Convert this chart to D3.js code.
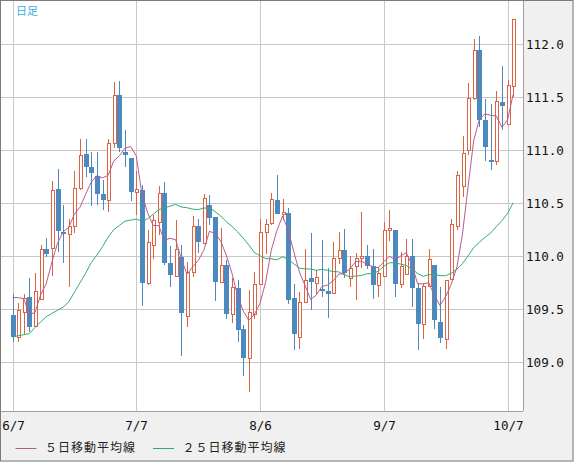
<!DOCTYPE html>
<html>
<head>
<meta charset="utf-8">
<script src="https://cdn.jsdelivr.net/npm/d3@7"></script>
<style>
body { margin: 0; background: #fff; }
</style>
</head>
<body>
<div id="cont"></div>
<script>
// data //

var dates = ["6/7","6/8","6/9","6/10","6/11","6/14","6/15","6/16","6/17","6/18",
  "6/21","6/22","6/23","6/24","6/25","6/28","6/29","6/30","7/1","7/2",
  "7/5","7/6","7/7","7/8","7/9","7/12","7/13","7/14","7/15","7/16",
  "7/19","7/20","7/21","7/22","7/23","7/26","7/27","7/28","7/29","7/30",
  "8/2","8/3","8/4","8/5","8/6","8/9","8/10","8/11","8/12","8/13",
  "8/16","8/17","8/18","8/19","8/20","8/23","8/24","8/25","8/26","8/27",
  "8/30","8/31","9/1","9/2","9/3","9/6","9/7","9/8","9/9","9/10",
  "9/13","9/14","9/15","9/16","9/17","9/20","9/21","9/22","9/23","9/24",
  "9/27","9/28","9/29","9/30","10/1","10/4","10/5","10/6","10/7","10/8"];

var open = [109.45,109.24,109.48,109.62,109.34,109.60,110.07,110.07,110.63,110.23,
  110.20,110.28,110.64,110.96,110.84,110.76,110.59,110.53,111.07,111.52,
  110.98,110.93,110.60,110.62,109.74,110.10,110.33,110.60,109.94,109.82,
  109.99,109.44,109.85,110.28,110.13,110.48,110.37,109.76,109.92,109.46,
  109.70,109.31,109.04,109.46,109.74,110.22,110.31,110.53,110.40,110.41,
  109.61,109.24,109.57,109.79,109.74,109.69,109.67,109.65,109.98,110.06,
  109.80,109.90,109.98,110.00,109.91,109.73,109.82,110.25,110.25,109.74,
  109.83,110.00,109.70,109.36,109.72,109.92,109.38,109.22,109.78,110.29,
  110.66,111.00,111.49,111.94,111.28,110.91,110.89,111.45,111.24,111.61];

var high = [109.64,109.56,109.64,109.79,109.84,110.11,110.17,110.71,110.82,110.48,
  110.35,110.80,111.10,111.10,110.98,110.98,110.72,111.10,111.64,111.65,
  111.19,110.93,110.80,110.67,110.25,110.39,110.66,110.70,110.10,110.34,
  110.11,109.95,110.38,110.35,110.59,110.58,110.37,110.27,109.96,109.79,
  109.78,109.35,109.68,109.85,110.35,110.35,110.60,110.77,110.54,110.45,
  109.74,109.66,110.07,110.22,109.87,110.15,109.89,110.13,110.23,110.26,
  110.00,110.03,110.42,110.11,110.07,109.90,110.32,110.44,110.25,110.04,
  110.16,110.16,109.75,109.75,110.07,109.92,109.71,109.78,110.35,110.80,
  111.13,111.63,112.05,112.08,111.48,111.43,111.56,111.79,111.66,112.24];

var low = [109.19,109.19,109.26,109.29,109.33,109.60,109.99,109.81,110.04,109.94,
  109.71,110.22,110.62,110.75,110.47,110.48,110.44,110.42,111.02,110.98,
  110.84,110.52,110.39,109.53,109.73,109.97,110.20,109.92,109.71,109.81,
  109.06,109.33,109.80,110.03,110.12,110.29,109.58,109.76,109.41,109.37,
  109.19,108.87,108.72,109.41,109.73,110.02,110.29,110.40,110.34,109.55,
  109.12,109.13,109.57,109.49,109.64,109.62,109.42,109.65,109.93,109.79,
  109.71,109.59,109.89,109.88,109.60,109.62,109.81,110.14,109.62,109.70,
  109.83,109.52,109.12,109.22,109.71,109.31,109.18,109.13,109.78,110.25,
  110.56,110.95,111.47,111.22,110.90,110.81,110.86,111.19,111.24,111.50];

var close = [109.24,109.49,109.61,109.34,109.67,110.07,110.02,110.62,110.23,110.21,
  110.28,110.64,110.95,110.84,110.78,110.59,110.53,111.07,111.52,111.02,
  110.95,110.61,110.63,109.74,110.13,110.34,110.60,109.94,109.83,110.07,
  109.46,109.85,110.28,110.13,110.55,110.36,109.76,109.92,109.46,109.71,
  109.30,109.04,109.47,109.74,110.23,110.30,110.54,110.40,110.42,109.59,
  109.27,109.57,109.78,109.75,109.80,109.67,109.64,109.98,110.06,109.84,
  109.89,109.98,110.00,109.91,109.73,109.84,110.25,110.27,109.74,109.91,
  110.00,109.70,109.36,109.72,109.97,109.40,109.23,109.78,110.30,110.77,
  110.97,111.49,111.94,111.28,111.03,110.90,111.46,111.41,111.61,112.24];

// averages before the window fills (earlier days are not in the chart)
var ma5Head = [109.61,109.61,109.60,109.45];
var ma25Head = [109.24,109.25,109.26,109.27,109.33,109.38,109.43,109.46,109.49,109.52,
  109.57,109.66,109.75,109.84,109.94,110.01,110.09,110.18,110.25,110.29,
  110.33,110.34,110.35,110.33];

var xTicks = ["6/7","7/7","8/6","9/7","10/7"];
var yTicks = [109.0,109.5,110.0,110.5,111.0,111.5,112.0];
var legendNames = ["５日移動平均線","２５日移動平均線"];

// SVG stuff //

var W = 574, H = 462, plotR = 523, plotB = 411;
var upCol = "#dd6442", downCol = "#4b89bf", ma5Col = "#b65d8e", ma25Col = "#2eae6e";

var svg = d3.select("#cont").append("svg").attr("width", W).attr("height", H)
  .style("display", "block");

svg.append("rect").attr("width", W).attr("height", H).attr("fill", "#f0f0f0");
svg.append("rect").attr("x", 1).attr("y", 1).attr("width", plotR - 1).attr("height", plotB - 1)
  .attr("fill", "#fff");

svg.append("clipPath").attr("id", "clip").append("rect")
  .attr("x", 1).attr("y", 1).attr("width", plotR - 1).attr("height", plotB - 1);

var x = d3.scalePoint().domain(dates).range([12.5, 513.125]);
var y = d3.scaleLinear().domain([109, 112]).range([362.3, 44]);
var px = function(d) { return Math.round(x(d)) + 0.5; };

var plot = svg.append("g").attr("clip-path", "url(#clip)");

// grid
plot.selectAll(".hg").data(yTicks).enter().append("line")
  .attr("x1", 0).attr("x2", plotR)
  .attr("y1", function(d) { return Math.round(y(d)) + 0.5; })
  .attr("y2", function(d) { return Math.round(y(d)) + 0.5; })
  .attr("stroke", "#c8c8c8").attr("stroke-width", 1);
plot.selectAll(".vg").data(xTicks).enter().append("line")
  .attr("x1", px).attr("x2", px).attr("y1", 0).attr("y2", plotB)
  .attr("stroke", "#c8c8c8").attr("stroke-width", 1);

// candles
var bars = dates.map(function(d, i) {
  return { d: d, o: open[i], h: high[i], l: low[i], c: close[i] };
});

var cg = plot.selectAll(".candle").data(bars).enter().append("g")
  .attr("shape-rendering", "crispEdges");
cg.append("line")
  .attr("x1", function(b) { return px(b.d); }).attr("x2", function(b) { return px(b.d); })
  .attr("y1", function(b) { return y(b.h); }).attr("y2", function(b) { return y(b.l); })
  .attr("stroke", function(b) { return b.c >= b.o ? upCol : downCol; });
cg.filter(function(b) { return b.c >= b.o; }).append("rect")
  .attr("x", function(b) { return px(b.d) - 1.5; }).attr("width", 3)
  .attr("y", function(b) { return Math.round(y(b.c)) + 0.5; })
  .attr("height", function(b) { return Math.max(1, Math.round(y(b.o) - y(b.c))); })
  .attr("fill", "#fff").attr("stroke", upCol);
cg.filter(function(b) { return b.c < b.o; }).append("rect")
  .attr("x", function(b) { return px(b.d) - 2.5; }).attr("width", 5)
  .attr("y", function(b) { return Math.round(y(b.o)); })
  .attr("height", function(b) { return Math.max(2, Math.round(y(b.c) - y(b.o))); })
  .attr("fill", downCol);

// moving averages
var movAvg = function(n, head) {
  return close.map(function(v, i) {
    return i < n - 1 ? head[i] : d3.mean(close.slice(i - n + 1, i + 1));
  });
};
var ma5 = movAvg(5, ma5Head), ma25 = movAvg(25, ma25Head);

var line = d3.line()
  .x(function(v, i) { return x(dates[i]); })
  .y(function(v) { return y(v); });

plot.append("path").attr("d", line(ma25)).attr("fill", "none")
  .attr("stroke", ma25Col).attr("stroke-width", 1);
plot.append("path").attr("d", line(ma5)).attr("fill", "none")
  .attr("stroke", ma5Col).attr("stroke-width", 1);

plot.append("text").attr("x", 16).attr("y", 15).text("日足")
  .attr("font-family", "Noto Sans CJK JP").attr("font-size", 11).attr("fill", "#3aaee2");

// frame
svg.append("line").attr("x1", plotR + 0.5).attr("x2", plotR + 0.5).attr("y1", 0).attr("y2", plotB)
  .attr("stroke", "#a0a0a0");
svg.append("line").attr("x1", 0).attr("x2", plotR).attr("y1", plotB + 0.5).attr("y2", plotB + 0.5)
  .attr("stroke", "#a0a0a0");
svg.append("rect").attr("x", 0.5).attr("y", 0.5).attr("width", W - 1.5).attr("height", H - 1.5)
  .attr("fill", "none").attr("stroke", "#7c7c7c");

// axes labels
svg.selectAll(".yl").data(yTicks).enter().append("text")
  .attr("x", 526).attr("y", function(d) { return y(d); }).attr("dy", "0.36em")
  .attr("font-family", "DejaVu Sans Mono").attr("font-size", 12.6).attr("fill", "#111")
  .text(function(d) { return d.toFixed(1); });

svg.selectAll(".xl").data(xTicks).enter().append("text")
  .attr("x", px).attr("y", 430).attr("text-anchor", "middle")
  .attr("font-family", "DejaVu Sans Mono").attr("font-size", 12.6).attr("fill", "#111")
  .text(function(d) { return d; });

// legend
var leg = svg.selectAll(".leg").data(legendNames).enter().append("g")
  .attr("transform", function(d, i) { return "translate(" + [15.5 + i * 137.5, 448] + ")"; });
leg.append("line").attr("x1", 0).attr("x2", 21).attr("y1", 0.5).attr("y2", 0.5)
  .attr("stroke", function(d, i) { return i ? ma25Col : ma5Col; });
leg.append("text").attr("x", 29.5).attr("y", 0).attr("dy", "0.36em")
  .attr("font-family", "Noto Sans CJK JP").attr("font-size", 12).attr("letter-spacing", 1)
  .attr("fill", "#222").text(function(d) { return d; });
</script>
</body>
</html>
